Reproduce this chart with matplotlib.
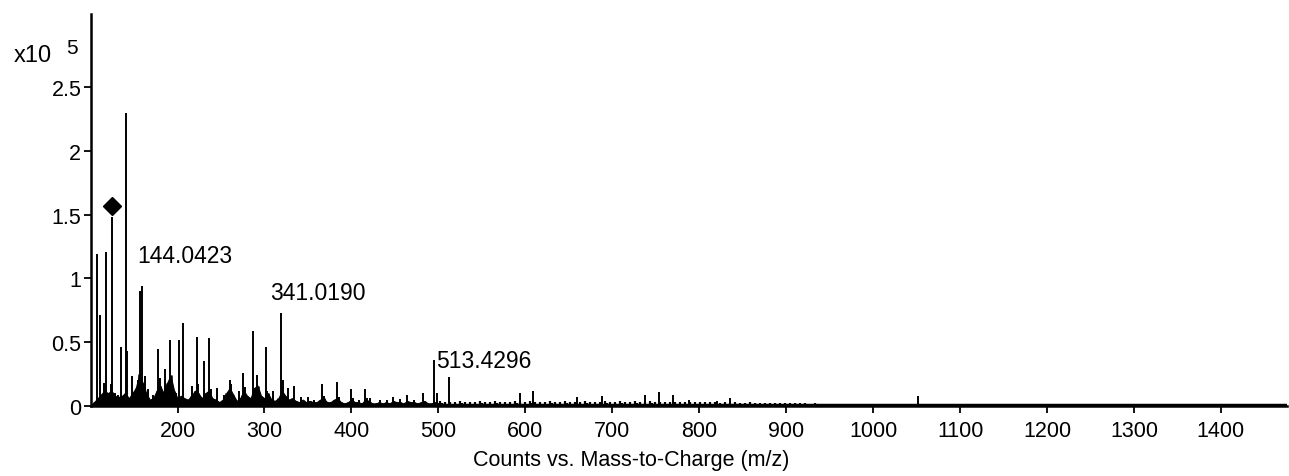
import numpy as np
import matplotlib
matplotlib.use("Agg")
import matplotlib.pyplot as plt

plt.rcParams['font.family'] = ['Liberation Sans', 'DejaVu Sans']

# ---- data (intensities in units of 1e5 counts) ----
peak_mz = [107.8, 110.5, 115.5, 118.0, 123.2, 124.7, 127.8, 131.0, 134.7, 140.5,
           142.3, 148.0, 154.6, 157.2, 159.2, 162.3, 165.8, 171.8, 177.6, 179.5,
           186.0, 191.0, 198.6, 201.4, 206.3, 210.6, 216.3, 222.8, 223.8, 230.5,
           236.2, 238.0, 245.0, 253.5, 260.4, 262.0, 270.7, 275.7, 277.5, 287.2,
           291.8, 295.0, 301.4, 303.0, 310.2, 318.7, 321.7, 327.0, 334.0, 342.0,
           350.6, 357.0, 366.5, 369.0, 383.0, 386.0, 399.2, 402.0, 409.0, 415.6,
           418.0, 421.0, 433.0, 441.0, 448.0, 456.0, 464.2, 472.0, 482.0, 495.4,
           498.0, 512.0, 594.0, 609.0, 659.0, 688.0, 738.0, 754.0, 770.0, 788.0,
           820.0, 835.0, 1051.5]
peak_int = [1.19, 0.71, 0.18, 1.21, 0.17, 1.48, 0.10, 0.09, 0.46, 2.30,
            0.43, 0.235, 0.20, 0.90, 0.94, 0.235, 0.13, 0.09, 0.45, 0.22,
            0.29, 0.52, 0.10, 0.52, 0.65, 0.05, 0.16, 0.54, 0.17, 0.35,
            0.53, 0.13, 0.14, 0.09, 0.20, 0.17, 0.12, 0.26, 0.15, 0.59,
            0.24, 0.10, 0.46, 0.12, 0.12, 0.73, 0.20, 0.14, 0.16, 0.07,
            0.07, 0.05, 0.175, 0.08, 0.19, 0.07, 0.13, 0.06, 0.05, 0.13,
            0.06, 0.06, 0.05, 0.045, 0.07, 0.055, 0.09, 0.045, 0.10, 0.36,
            0.10, 0.23, 0.105, 0.115, 0.07, 0.08, 0.09, 0.11, 0.085, 0.045,
            0.04, 0.06, 0.08]

# dense low-level background (envelope), 100-500 m/z every 4 units
base_start, base_step = 100, 4
base_int = [0.0, 0.03, 0.06, 0.09, 0.12, 0.10, 0.12, 0.08, 0.07, 0.08,
            0.10, 0.06, 0.10, 0.14, 0.25, 0.18, 0.10, 0.05, 0.06, 0.12,
            0.16, 0.10, 0.18, 0.24, 0.12, 0.06, 0.08, 0.06, 0.05, 0.08,
            0.12, 0.10, 0.06, 0.10, 0.12, 0.06, 0.05, 0.03, 0.05, 0.10,
            0.14, 0.09, 0.04, 0.06, 0.12, 0.08, 0.06, 0.14, 0.16, 0.08,
            0.06, 0.10, 0.05, 0.04, 0.06, 0.12, 0.08, 0.05, 0.06, 0.04,
            0.03, 0.05, 0.03, 0.04, 0.03, 0.03, 0.05, 0.06, 0.03, 0.03,
            0.05, 0.06, 0.03, 0.02, 0.03, 0.05, 0.03, 0.03, 0.02, 0.05,
            0.04, 0.02, 0.02, 0.03, 0.02, 0.03, 0.02, 0.04, 0.03, 0.03,
            0.02, 0.04, 0.03, 0.03, 0.02, 0.03, 0.04, 0.02, 0.02, 0.03,
            0.02]

# small peaks 502-956 m/z, spacing ~5.75
minor_start, minor_step = 502, 5.75
minor_int = [0.04, 0.03, 0.035, 0.03, 0.04, 0.03, 0.035, 0.03, 0.04, 0.035,
             0.03, 0.04, 0.03, 0.035, 0.03, 0.04, 0.03, 0.035, 0.04, 0.03,
             0.035, 0.03, 0.04, 0.035, 0.03, 0.04, 0.035, 0.03, 0.035, 0.04,
             0.03, 0.035, 0.03, 0.04, 0.035, 0.03, 0.04, 0.03, 0.035, 0.04,
             0.035, 0.03, 0.04, 0.035, 0.03, 0.035, 0.03, 0.03, 0.035, 0.03,
             0.035, 0.03, 0.03, 0.035, 0.03, 0.03, 0.025, 0.03, 0.025, 0.03,
             0.025, 0.025, 0.03, 0.025, 0.02, 0.025, 0.02, 0.025, 0.02, 0.02,
             0.025, 0.02, 0.02, 0.02, 0.015, 0.02, 0.015, 0.015, 0.015, 0.01]

# faint noise 1160-1464 m/z every 8 units
tail_start, tail_step = 1160, 8
tail_int = [0.012, 0.01, 0.014, 0.01, 0.012, 0.015, 0.01, 0.013, 0.016, 0.012,
            0.014, 0.017, 0.012, 0.015, 0.018, 0.013, 0.016, 0.012, 0.015, 0.018,
            0.014, 0.016, 0.012, 0.017, 0.015, 0.013, 0.016, 0.012, 0.015, 0.017,
            0.013, 0.015, 0.012, 0.014, 0.016, 0.012, 0.014, 0.011, 0.012]

xticks = [200, 300, 400, 500, 600, 700, 800, 900, 1000, 1100, 1200, 1300, 1400]
yticks = [0, 0.5, 1, 1.5, 2, 2.5]
ytick_labels = ['0', '0.5', '1', '1.5', '2', '2.5']

labels = [('144.0423', 153.4, 1.128), ('341.0190', 306.4, 0.839), ('513.4296', 497.3, 0.303)]
marker_mz, marker_int = 124.7, 1.567

# ---- figure ----
W, H = 1289, 477
fig = plt.figure(figsize=(W / 100, H / 100), dpi=100)
ax = fig.add_axes([91 / W, (H - 407) / H, (1287 - 91) / W, (407 - 15) / H])

base_mz = base_start + base_step * np.arange(len(base_int))
ax.fill_between(base_mz, 0, base_int, color='black', lw=0.8)
ax.vlines(base_mz, 0, base_int, color='black', lw=1.8)

minor_mz = minor_start + minor_step * np.arange(len(minor_int))
ax.vlines(minor_mz, 0, minor_int, color='black', lw=1.6)
ax.vlines(minor_mz + 2.5, 0, np.array(minor_int) * 0.5, color='black', lw=1.6)

tail_mz = tail_start + tail_step * np.arange(len(tail_int))
ax.vlines(tail_mz, 0, tail_int, color='black', lw=1.4)

ax.vlines(peak_mz, 0, peak_int, color='black', lw=1.4)
ax.axhline(0.004, color='black', lw=2.5)

ax.plot([marker_mz], [marker_int], marker='D', ms=9, color='black', ls='none')

for txt, x, y in labels:
    ax.text(x, y, txt, fontsize=16.5, ha='left', va='baseline')

ax.set_xlim(100.5, 1476)
ax.set_ylim(0, 3.072)
ax.set_xticks(xticks)
ax.set_yticks(yticks)
ax.set_yticklabels(ytick_labels)
ax.tick_params(axis='both', labelsize=15.5, width=1.3, length=5, color='black')
ax.tick_params(axis='x', pad=5)
ax.tick_params(axis='y', pad=2)
for s in ['top', 'right']:
    ax.spines[s].set_visible(False)
ax.spines['left'].set_linewidth(1.8)
ax.spines['bottom'].set_linewidth(1.8)

fig.text(14 / W, (H - 62) / H, 'x10', fontsize=17, ha='left', va='baseline')
fig.text(66 / W, (H - 54) / H, '5', fontsize=15, ha='left', va='baseline')
fig.text(631 / W, (H - 450) / H, 'Counts vs. Mass-to-Charge (m/z)', fontsize=15.5,
         ha='center', va='top')

fig.savefig('out.png', dpi=100)
